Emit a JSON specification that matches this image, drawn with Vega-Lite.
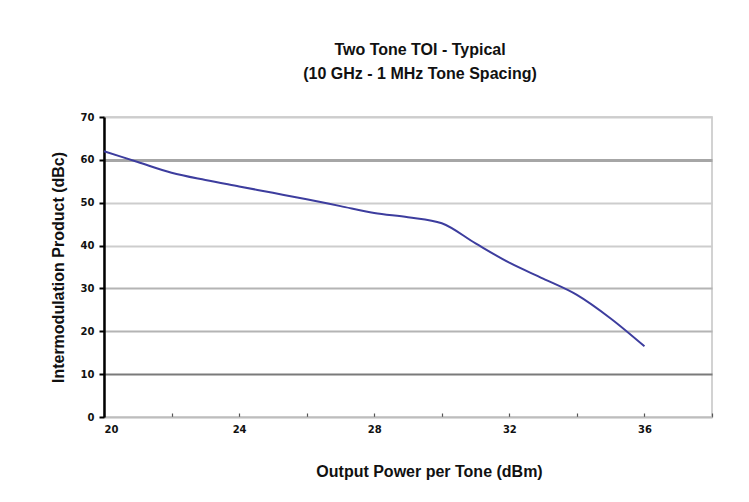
{
  "$schema": "https://vega.github.io/schema/vega-lite/v6.json",
  "autosize": "none",
  "padding": {"left": 104, "top": 117, "right": 37, "bottom": 85},
  "width": 608,
  "height": 300,
  "background": "white",
  "title": {
    "text": ["Two Tone TOI - Typical", "(10 GHz - 1 MHz Tone Spacing)"],
    "font": "Liberation Sans",
    "fontSize": 16,
    "fontWeight": "bold",
    "color": "#111111",
    "lineHeight": 24,
    "offset": 30,
    "dx": 12,
    "anchor": "middle"
  },
  "config": {
    "view": {"stroke": "#c4c4c4", "strokeWidth": 1.5}
  },
  "data": {
    "values": [
      {"power": 20, "imd": 62.0},
      {"power": 21, "imd": 59.5},
      {"power": 22, "imd": 57.0},
      {"power": 23, "imd": 55.3},
      {"power": 24, "imd": 53.8},
      {"power": 25, "imd": 52.3},
      {"power": 26, "imd": 50.8},
      {"power": 27, "imd": 49.2},
      {"power": 28, "imd": 47.6},
      {"power": 29, "imd": 46.6},
      {"power": 30, "imd": 45.2},
      {"power": 31, "imd": 40.5},
      {"power": 32, "imd": 36.0},
      {"power": 33, "imd": 32.3},
      {"power": 34, "imd": 28.5},
      {"power": 35, "imd": 23.0},
      {"power": 36, "imd": 16.5}
    ]
  },
  "mark": {"type": "line", "interpolate": "monotone", "color": "#3d3d9e", "strokeWidth": 2},
  "encoding": {
    "x": {
      "field": "power",
      "type": "quantitative",
      "scale": {"domain": [20, 38], "nice": false, "zero": false},
      "axis": {
        "title": "Output Power per Tone (dBm)",
        "titleFont": "Liberation Sans",
        "titleFontSize": 16,
        "titleFontWeight": "bold",
        "titleColor": "#111111",
        "titleX": 325,
        "titlePadding": 29,
        "values": [20, 22, 24, 26, 28, 30, 32, 34, 36, 38],
        "labelExpr": "datum.value % 4 == 0 && datum.value < 38 ? datum.label : ''",
        "labelFont": "DejaVu Sans",
        "labelFontSize": 10,
        "labelFontWeight": "bold",
        "labelColor": "#111111",
        "labelPadding": 11,
        "grid": false,
        "domainColor": "#bdbdbd",
        "domainWidth": 1.5,
        "tickColor": "#555555",
        "tickSize": -4,
        "tickWidth": 1.2
      }
    },
    "y": {
      "field": "imd",
      "type": "quantitative",
      "scale": {"domain": [0, 70], "nice": false},
      "axis": {
        "title": "Intermodulation Product (dBc)",
        "titleFont": "Liberation Sans",
        "titleFontSize": 16,
        "titleFontWeight": "bold",
        "titleColor": "#111111",
        "titlePadding": 14,
        "values": [0, 10, 20, 30, 40, 50, 60, 70],
        "labelFont": "DejaVu Sans",
        "labelFontSize": 10,
        "labelFontWeight": "bold",
        "labelColor": "#111111",
        "labelPadding": 5,
        "grid": true,
        "gridColor": {
          "condition": [
            {"test": "datum.value === 60", "value": "#a6a6a6"},
            {"test": "datum.value === 10", "value": "#7a7a7a"},
            {"test": "datum.value === 20 || datum.value === 30", "value": "#b4b4b4"}
          ],
          "value": "#cdcdcd"
        },
        "gridWidth": {
          "condition": {"test": "datum.value === 60", "value": 3},
          "value": 1.8
        },
        "domainColor": "#000000",
        "domainWidth": 2.5,
        "tickColor": "#000000",
        "tickSize": 5,
        "tickWidth": 2
      }
    }
  }
}
